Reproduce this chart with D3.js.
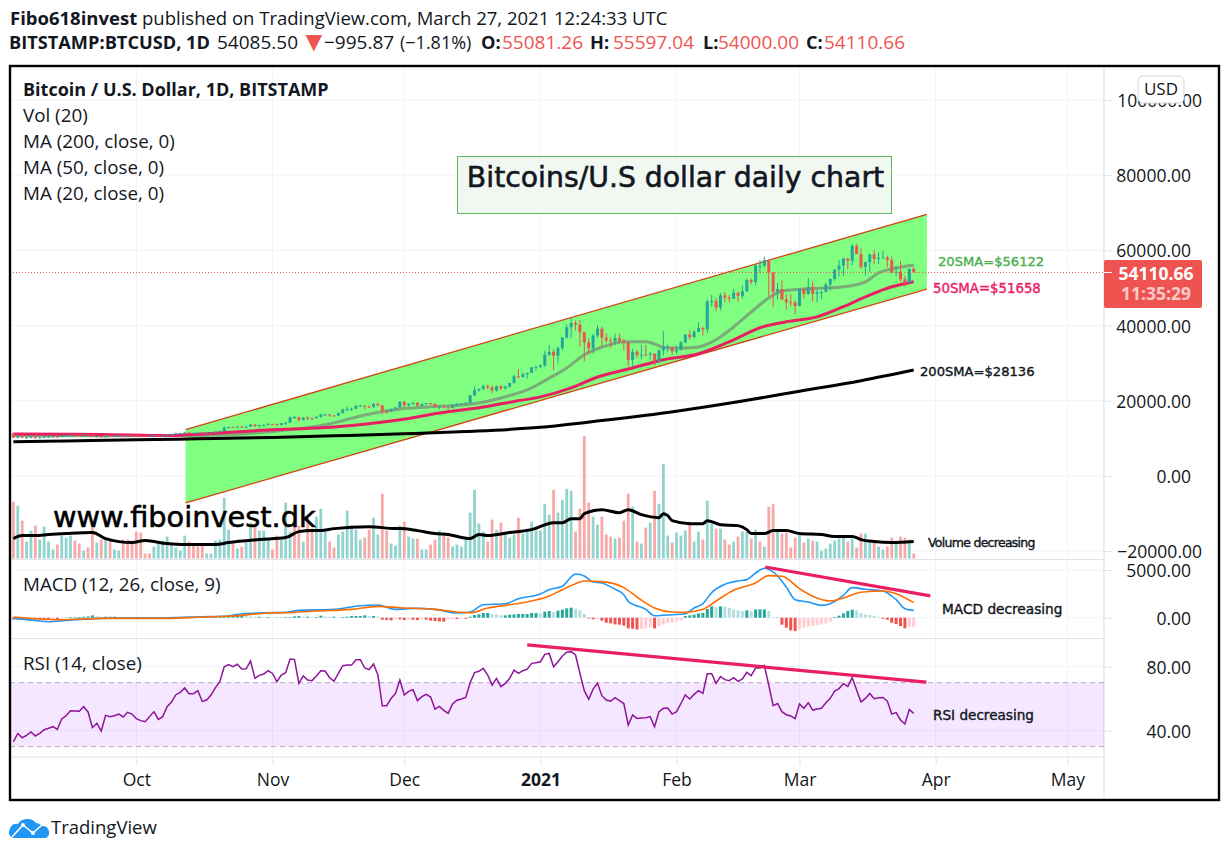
<!DOCTYPE html>
<html>
<head>
<meta charset="utf-8">
<title>Bitcoin daily chart</title>
<script src="https://cdn.jsdelivr.net/npm/d3@7"></script>
<style>
  html, body { margin: 0; padding: 0; background: #fff; }
  svg { display: block; }
  text { font-family: "Open Sans", sans-serif; fill: #131722; }
</style>
</head>
<body>
<div id="chart"></div>
<script>
// Daily bars 3 Sep 2020 - 27 Mar 2021
const opens = [
  11400,10170,10470,10160,10250,10370,10130,10230,10340,10390,10440,10320,10680,10790,10950,10940,10930,11080,10920,10420,10530,10240,10740,10690,10730,10770,10690,10840,
  10780,10620,10570,10550,10670,10790,10600,10670,10920,11060,11300,11370,11540,11430,11430,11500,11320,11360,11480,11750,11920,12820,12980,12930,13120,13040,13070,13650,13280,13460,13550,
  13800,13760,13560,14030,14150,15590,15590,14830,15480,15330,15310,15700,16290,16320,16070,15960,16720,17670,17800,17820,18680,18700,18420,18370,19150,18730,17150,17140,17720,18180,
  19700,18790,19220,19440,18650,19150,19360,19170,18320,18550,18250,18040,18800,19170,19270,19440,21380,22800,23130,23860,23480,22730,23820,23250,23720,24690,26490,26280,27040,27370,28880,
  28990,29400,32190,33000,31980,33990,36810,39490,40670,40240,38240,35540,33920,37340,39150,36770,36020,35800,36630,35910,35500,30830,33000,32100,32280,32260,32510,30400,33400,34300,34300,
  33100,33500,35500,37600,36900,38300,39300,38900,46400,46500,44800,48000,47400,47200,48700,47900,49100,52100,51600,55900,55900,57400,54100,48900,49700,47000,46200,46100,
  45200,49600,48400,50300,48400,48800,48900,50900,52400,54900,55900,57800,57200,61200,59000,55600,56900,58900,57700,58000,58100,57400,54100,54300,52300,51300,55081.26
];
const closes = [
  10170,10470,10160,10250,10370,10130,10230,10340,10390,10440,10320,10680,10790,10950,10940,10930,11080,10920,10420,10530,10240,10740,10690,10730,10770,10690,10840,10780,
  10620,10570,10550,10670,10790,10600,10670,10920,11060,11300,11370,11540,11430,11430,11500,11320,11360,11480,11750,11920,12820,12980,12930,13120,13040,13070,13650,13280,13460,13550,13800,
  13760,13560,14030,14150,15590,15590,14830,15480,15330,15310,15700,16290,16320,16070,15960,16720,17670,17800,17820,18680,18700,18420,18370,19150,18730,17150,17140,17720,18180,19700,
  18790,19220,19440,18650,19150,19360,19170,18320,18550,18250,18040,18800,19170,19270,19440,21380,22800,23130,23860,23480,22730,23820,23250,23720,24690,26490,26280,27040,27370,28880,28990,
  29400,32190,33000,31980,33990,36810,39490,40670,40240,38240,35540,33920,37340,39150,36770,36020,35800,36630,35910,35500,30830,33000,32100,32280,32260,32510,30400,33400,34300,34300,33100,
  33500,35500,37600,36900,38300,39300,38900,46400,46500,44800,48000,47400,47200,48700,47900,49100,52100,51600,55900,55900,57400,54100,48900,49700,47000,46200,46100,45200,
  49600,48400,50300,48400,48800,48900,50900,52400,54900,55900,57800,57200,61200,59000,55600,56900,58900,57700,58000,58100,57400,54100,54300,52300,51300,55100,54110.66
];
const highs = [
  11450,10630,10560,10350,10400,10430,10350,10420,10480,10480,10570,10780,10830,11100,11040,11000,11170,11050,10930,10570,10540,10800,10760,10780,10800,10810,10860,10860,
  10920,10670,10600,10700,10800,10800,10690,10950,11100,11490,11440,11720,11560,11550,11640,11550,11390,11490,11810,12000,13190,13160,13020,13160,13340,13240,13790,13860,13620,13680,14090,
  13900,13830,14070,14240,15730,15960,15730,15660,15840,15460,15960,16480,16480,16340,16170,16880,17850,18480,18190,18800,18970,18700,18760,19400,19500,18890,17470,17900,18350,19840,
  19900,19300,19560,19620,19180,19420,19420,19300,18630,18570,18290,18950,19400,19350,19570,21560,23770,23290,24170,24280,24100,24000,24100,24000,24790,26880,28400,27500,27400,28990,29300,
  29680,33300,34800,33600,34450,36900,40360,41950,41350,41400,38300,36600,37800,40100,39700,37900,36800,37800,37800,36400,35500,33800,33500,34800,34850,32900,32550,33700,38500,34900,34300,
  34700,35900,37700,38700,38800,40900,39700,47000,48100,47300,48600,48900,48100,49700,49000,50600,52500,52500,56200,57500,58300,57500,54200,51300,52000,48300,48300,46700,
  50000,50200,52600,51700,49400,49200,51400,52400,54900,57400,58000,58000,61700,61700,60500,56900,59000,60000,59500,59900,58600,58400,55800,57200,53200,55100,55597.04
];
const lows = [
  10000,9860,10000,9880,9980,9830,10010,10240,10260,10290,10200,10270,10570,10740,10800,10810,10890,10800,10300,10370,10150,10200,10600,10640,10680,10630,10650,10670,
  10440,10370,10530,10500,10630,10530,10570,10530,10830,11090,11290,11220,11280,11300,11270,11230,11270,11340,11400,11700,11880,12690,12720,12900,12910,12780,13050,12950,12980,13130,13520,
  13630,13210,13300,13530,14100,15170,14370,14750,14850,14830,15280,15500,15970,15720,15770,15870,16550,17220,17350,17740,18360,17610,18000,18050,18530,16330,16500,16880,17590,18180,
  18200,18350,18890,18610,18550,18940,18950,18200,17650,17900,17600,18000,18710,19000,19050,19280,21260,22350,22790,23070,21900,22380,22700,23000,23450,24500,25950,26100,25900,27320,27900,
  28700,29000,32000,28100,29900,33400,36500,36600,38750,34500,30500,32400,32500,36700,34400,35400,34000,34900,35400,33400,29100,28900,31400,31000,31800,30850,29300,29900,31950,32800,32200,
  32300,33400,35300,36200,36600,38200,37300,38000,45000,43800,44000,46200,46200,47000,46300,47100,48900,50900,50700,53900,55500,47600,44900,47000,46700,44200,45100,43000,
  45100,47100,48100,46300,46200,47000,48900,49300,51900,53000,53200,55000,56100,59000,55000,53300,54200,56300,56300,57900,55500,53800,53100,51700,50400,51500,54000
];

// Volume has no axis in the picture, so these are relative bar heights
const volumes = [
  57,53,38,17,28,33,19,32,17,9,14,23,21,23,18,15,8,11,31,16,19,20,18,9,8,19,19,15,27,26,
  5,5,12,15,18,22,14,11,8,23,17,14,12,13,5,5,18,19,61,29,15,10,12,16,36,33,28,28,19,9,
  23,19,56,27,43,33,17,41,30,42,50,27,17,11,24,27,48,33,29,19,21,29,41,24,65,28,15,13,
  33,37,22,20,20,9,9,14,19,28,23,21,12,14,12,19,46,69,35,27,17,39,29,36,24,21,24,41,25,30,
  37,28,28,55,44,69,46,59,70,68,27,50,123,56,42,34,42,24,22,20,21,38,65,52,17,15,31,36,68,55,
  95,23,16,26,23,28,37,17,27,19,58,35,30,30,19,14,17,22,27,27,20,29,17,12,52,55,27,25,26,11,
  21,26,16,20,18,17,8,10,15,18,20,21,17,20,11,25,25,16,16,12,9,12,21,17,22,21,19,5
];
const volumeDirs = "rtrttrttttrtttrrtrrtrtrttrrrrrrrttttttttrrrrttttttrtrttrtttrrtttrrtrrtttrrttttttrrttrrtt" +
  "trttrttrrtrrttttttttrrtrtttrtttttttrttttrrrrttrrrtrrrtrtrtrtttrtttrttrttrtrrtrttrtrtrrtrrrrtrtrtttttttrtrrttrttrrtrrtr";
const volMaDays = [0,2,5,8,12,18,21,27,30,35,39,46,49,56,62,65,68,70,73,81,87,88,92,96,99,104,106,108,113,118,123,125,127,129,130,134,138,140,143,147,148,149,150,154,157,158,161,165,167,168,171,173,176,179,184,187,191,193,196,200,205];
const volMaValues = [20,23,23,24,25,26,20,16,18,15,14,14,16,19,21,27,28,28,30,32,30,30,28,25,24,20,24,23,26,29,36,36,40,40,45,49,46,49,44,41,45,43,38,35,35,38,34,33,29,25,25,28,28,25,24,22,22,19,17,16,17];

// Moving averages, sampled at the bar numbers in the *Days arrays
const ma20Days = [0,20,39,59,73,80,88,95,103,111,118,122,126,130,135,139,144,149,153,156,160,164,168,172,175,182,189,194,197,201,205];
const ma20Values = [10700,10650,10700,11800,14100,16200,17800,18400,18900,20700,23400,26000,28700,32200,34600,35700,35700,34000,34000,34300,36200,39600,43600,47300,49200,49800,50300,51600,54000,55300,56122];
const ma50Days = [0,20,35,39,58,73,88,97,107,114,120,127,133,141,148,156,164,170,176,183,189,194,200,205];
const ma50Values = [11100,11000,10700,10900,12200,13000,14900,16700,18300,19800,21000,23400,26300,28700,30900,32500,36200,39400,41000,42300,45000,47600,50300,51658];
const ma200Days = [0,12,28,42,59,73,89,103,120,134,151,165,179,193,205];
const ma200Values = [9050,9300,9600,9850,10200,10650,11200,11800,12900,14700,17200,19700,22500,25300,28136];

const macdDays = [0,5,8,12,20,27,35,43,49,52,58,62,65,73,79,83,87,91,96,101,104,107,112,115,120,122,125,127,128,130,132,134,137,139,140,144,146,150,153,155,157,159,162,165,167,169,171,173,176,178,181,184,186,189,191,194,198,201,203,205];
const macdValues = [-70,-280,-420,-280,-70,0,0,105,175,420,525,560,770,875,1260,1330,875,980,875,490,595,1365,1470,1995,2485,2940,3290,4270,4585,4375,3745,3640,2975,2415,1715,875,210,315,420,1015,1470,2625,3500,3850,3990,4690,5180,4795,3220,1890,1645,1295,1470,2345,3150,2975,2800,1890,945,770];
const signalDays = [0,5,11,20,27,35,43,50,58,62,69,77,83,88,96,102,104,108,112,117,122,125,128,130,134,139,142,146,150,153,157,160,164,169,172,175,179,182,186,189,193,198,201,205];
const signalValues = [70,-105,-210,-70,-70,-70,70,175,490,525,700,875,1190,1050,875,560,525,1015,1295,1645,2275,2940,3570,3850,3780,3150,2170,1015,595,560,875,1750,2870,3640,4410,4340,3045,2240,1750,2065,2660,2800,2520,1575];
const macdHist = [
  -175,-175,-175,-210,-175,-175,-175,-175,-175,-140,-140,-105,
  35,70,70,70,105,140,245,140,105,105,
  105,105,70,70,35,35,70,35,35,35,
  35,70,35,35,35,35,35,35,70,70,
  70,70,70,70,70,105,105,140,175,175,
  210,175,140,105,105,70,70,35,35,35,
  70,70,140,175,105,105,70,70,210,140,
  105,105,35,70,105,175,175,175,245,175,
  175,105,-210,-245,-280,-175,-175,-245,-210,-210,-245,-175,
  -210,-315,-350,-385,-420,-175,-140,-140,-105,-105,
  105,280,350,490,490,385,315,245,245,315,
  350,385,385,385,490,490,455,630,700,595,
  735,840,980,1050,945,770,385,-70,-175,-140,
  -315,-525,-595,-700,-735,-840,-1120,-1155,-1225,-1190,
  -1120,-1015,-1120,-875,-700,-560,-525,-385,-280,175,
  245,315,455,490,910,1190,1085,1190,1155,1050,
  875,770,700,770,700,875,875,875,700,70,
  -35,-735,-1050,-1330,-1400,-1225,-1050,-945,-875,-805,
  -700,-595,-420,70,210,455,700,840,770,490,
  315,280,210,105,-105,-210,-525,-665,-875,-1120,
  -980,-945
];
const rsiValues = [
  33.1,38.3,35.6,37.1,39.2,36.7,38.3,40.6,41.5,42.5,40.8,47.3,49.4,52.5,52.3,52.1,55,51.7,41.9,44.6,
  39.8,49.6,48.8,49.4,50.4,48.6,51.5,50.4,47.5,46.3,45.6,48.8,51.9,47.1,48.8,55,57.9,62.5,64,66.7,
  63.1,63.1,65,58.3,59.2,62.3,66.9,70.6,80,81.3,80,81.5,78.5,78.7,83.5,72.7,74.6,75.4,77.5,75.8,
  70.6,74.8,76.3,84.8,84.6,69.6,74.2,71.7,71.3,74.2,77.5,77.3,73.1,71,75.8,80.6,81,81,84.4,84.4,
  79.2,78.2,81.7,74.8,55.6,55.6,60.2,63.3,71.7,62.3,64.6,65.6,58.8,61.3,62.7,61,53.5,55.2,52.7,50.8,
  56.7,59,59.8,60.8,
  70,76.3,77.1,79,74.8,68.5,72.7,67.5,69.6,72.7,77.9,75.8,77.5,78.5,82.1,82.5,83.1,87.7,88.3,80,
  83.1,86.7,89,89.4,87.3,75.8,65,59.6,66,69.6,61.9,59.2,58.5,60.6,58.8,57,43.5,49.8,47.7,47.9,
  48.1,48.8,42.5,51.9,54,54.2,50.4,51.9,57,62.3,59.8,62.7,65,63.3,75.6,75.6,69.6,73.8,71.9,71.3,
  73.1,70.8,72.3,76.5,74.4,79.2,79.2,80.8,68.5,55.6,57,51.9,50,49.2,47.5,56.7,54,57.5,52.9,53.5,
  54,57.5,60.2,64.8,66.3,69.4,67.7,73.1,65.4,57.9,60.2,63.3,60,60.6,60.8,58.5,50.4,51.3,46.7,44.2,
  53.2,50.8
];

// Hand-drawn channel and trend lines: bar number + value at each end
const channelDays = [39.2, 208];
const channelTop = [12300, 69600];
const channelBottom = [-7200, 49700];
const macdTrendDays = [171.2, 208.8];
const macdTrendValues = [5312, 2292];
const rsiTrendDays = [117, 207.9];
const rsiTrendValues = [93.6, 70.4];

const priceTicks = [100000, 80000, 60000, 40000, 20000, 0, -20000];
const macdTicks = [5000, 0];
const rsiTicks = [80, 40];
const monthDays = [28, 59, 89, 120, 151, 179, 210, 240];
const monthLabels = ["Oct", "Nov", "Dec", "2021", "Feb", "Mar", "Apr", "May"];
const lastClose = 54110.66;

const width = 1229, height = 855;
const upColor = "#26a69a", downColor = "#ef5350", pink = "#e91e63";
const gridColor = "#f0f3fa", sepColor = "#e0e3eb";
const frame = { left: 10, right: 1219, top: 66, bottom: 800 };
const axisX = 1104, timeY = 757;

const svg = d3.select("#chart").append("svg")
    .attr("width", width)
    .attr("height", height)
    .attr("viewBox", `0 0 ${width} ${height}`);

// Scales
const x = d3.scaleLinear().domain([0, 240]).range([13.4, 1067.4]);
const yPrice = d3.scaleLinear().domain([-20000, 100000]).range([551, 100]);
const yVol = d3.scaleLinear().domain([0, 123]).range([558.5, 436]);
const yMacd = d3.scaleLinear().domain([0, 5000]).range([617.7, 570]);
const yRsi = d3.scaleLinear().domain([40, 80]).range([730.7, 666.7]);

const lineFrom = (days, values, yScale) => d3.line()
    .x((d, i) => x(days[i]))
    .y(d => yScale(d))
    .curve(d3.curveMonotoneX)(values);

// Grid
const grid = svg.append("g");
grid.selectAll(".vgrid").data(monthDays).enter().append("line")
    .attr("x1", d => x(d)).attr("x2", d => x(d))
    .attr("y1", frame.top).attr("y2", timeY)
    .attr("stroke", gridColor);
[[priceTicks, yPrice], [macdTicks, yMacd], [rsiTicks, yRsi]].forEach(([ticks, scale]) => {
    grid.selectAll(null).data(ticks).enter().append("line")
        .attr("x1", frame.left).attr("x2", axisX)
        .attr("y1", d => scale(d)).attr("y2", d => scale(d))
        .attr("stroke", gridColor);
});

// Pane separators
[559.5, 638.5, timeY].forEach(y => {
    svg.append("line").attr("x1", frame.left).attr("x2", axisX)
        .attr("y1", y).attr("y2", y).attr("stroke", sepColor).attr("stroke-width", 1.2);
});
svg.append("line").attr("x1", axisX).attr("x2", axisX)
    .attr("y1", frame.top).attr("y2", frame.bottom).attr("stroke", sepColor).attr("stroke-width", 1.2);

// Volume
svg.append("g").selectAll("rect").data(volumes).enter().append("rect")
    .attr("x", (d, i) => x(i) - 1.4)
    .attr("width", 2.8)
    .attr("y", d => yVol(d))
    .attr("height", d => yVol(0) - yVol(d))
    .attr("fill", (d, i) => volumeDirs[i] === "t" ? "#91d3cd" : "#f7a9a7");

svg.append("path")
    .attr("d", lineFrom(volMaDays, volMaValues, yVol))
    .attr("fill", "none").attr("stroke", "#000").attr("stroke-width", 3);

// Channel
svg.append("polygon")
    .attr("points", [
        [x(channelDays[0]), yPrice(channelTop[0])],
        [x(channelDays[1]), yPrice(channelTop[1])],
        [x(channelDays[1]), yPrice(channelBottom[1])],
        [x(channelDays[0]), yPrice(channelBottom[0])]
    ].join(" "))
    .attr("fill", "#80ff80");
[channelTop, channelBottom].forEach(vals => {
    svg.append("line")
        .attr("x1", x(channelDays[0])).attr("y1", yPrice(vals[0]))
        .attr("x2", x(channelDays[1])).attr("y2", yPrice(vals[1]))
        .attr("stroke", "#d4400f").attr("stroke-width", 1.3);
});

// Moving averages go under the candles
svg.append("path").attr("d", lineFrom(ma200Days, ma200Values, yPrice))
    .attr("fill", "none").attr("stroke", "#000").attr("stroke-width", 3);
svg.append("path").attr("d", lineFrom(ma20Days, ma20Values, yPrice))
    .attr("fill", "none").attr("stroke", "#7aab78").attr("stroke-width", 3);
svg.append("path").attr("d", lineFrom(ma50Days, ma50Values, yPrice))
    .attr("fill", "none").attr("stroke", pink).attr("stroke-width", 3);

// Candles
const candles = svg.append("g");
candles.selectAll(".wick").data(closes).enter().append("line")
    .attr("x1", (d, i) => x(i)).attr("x2", (d, i) => x(i))
    .attr("y1", (d, i) => yPrice(highs[i]))
    .attr("y2", (d, i) => yPrice(lows[i]))
    .attr("stroke", (d, i) => d >= opens[i] ? upColor : downColor);
candles.selectAll(".body").data(closes).enter().append("rect")
    .attr("x", (d, i) => x(i) - 1.5)
    .attr("width", 3)
    .attr("y", (d, i) => yPrice(Math.max(d, opens[i])))
    .attr("height", (d, i) => Math.max(1, Math.abs(yPrice(d) - yPrice(opens[i]))))
    .attr("fill", (d, i) => d >= opens[i] ? upColor : downColor);

// Last price line
svg.append("line")
    .attr("x1", frame.left).attr("x2", axisX)
    .attr("y1", yPrice(lastClose)).attr("y2", yPrice(lastClose))
    .attr("stroke", downColor).attr("stroke-dasharray", "1 2");

// MACD pane
svg.append("g").selectAll("rect").data(macdHist).enter().append("rect")
    .attr("x", (d, i) => x(i) - 1.5)
    .attr("width", 3)
    .attr("y", d => d >= 0 ? yMacd(d) : yMacd(0))
    .attr("height", d => Math.abs(yMacd(d) - yMacd(0)))
    .attr("fill", (d, i) => {
        const prev = i ? macdHist[i - 1] : d;
        if (d >= 0) return d >= prev ? upColor : "#b2dfdb";
        return d <= prev ? downColor : "#ffcdd2";
    });
svg.append("path").attr("d", lineFrom(macdDays, macdValues, yMacd))
    .attr("fill", "none").attr("stroke", "#2196f3").attr("stroke-width", 1.6);
svg.append("path").attr("d", lineFrom(signalDays, signalValues, yMacd))
    .attr("fill", "none").attr("stroke", "#ff6d00").attr("stroke-width", 1.6);
svg.append("line")
    .attr("x1", x(macdTrendDays[0])).attr("y1", yMacd(macdTrendValues[0]))
    .attr("x2", x(macdTrendDays[1])).attr("y2", yMacd(macdTrendValues[1]))
    .attr("stroke", pink).attr("stroke-width", 3.2);

// RSI pane
svg.append("rect")
    .attr("x", frame.left).attr("width", axisX - frame.left)
    .attr("y", yRsi(70)).attr("height", yRsi(30) - yRsi(70))
    .attr("fill", "#9915ff").attr("fill-opacity", 0.1);
[70, 30].forEach(v => {
    svg.append("line")
        .attr("x1", frame.left).attr("x2", axisX)
        .attr("y1", yRsi(v)).attr("y2", yRsi(v))
        .attr("stroke", "#b8a8bc").attr("stroke-dasharray", "5 4");
});
svg.append("path")
    .attr("d", d3.line().x((d, i) => x(i)).y(d => yRsi(d))(rsiValues))
    .attr("fill", "none").attr("stroke", "#8e1599").attr("stroke-width", 1.5);
svg.append("line")
    .attr("x1", x(rsiTrendDays[0])).attr("y1", yRsi(rsiTrendValues[0]))
    .attr("x2", x(rsiTrendDays[1])).attr("y2", yRsi(rsiTrendValues[1]))
    .attr("stroke", pink).attr("stroke-width", 3.2);

// Axes
function priceAxis(scale, ticks) {
    const g = svg.append("g")
        .attr("transform", `translate(${axisX},0)`)
        .call(d3.axisRight(scale).tickValues(ticks).tickSize(8).tickFormat(d3.format(".2f")));
    g.select(".domain").remove();
    g.selectAll("line").attr("stroke", sepColor);
    g.selectAll("text")
        .attr("text-anchor", "end")
        .attr("x", d => (d >= 100000 || d < 0) ? 98 : 87)
        .attr("dy", "0.38em")
        .style("font-size", "17.5px")
        .style("fill", "#131722");
}
priceAxis(yPrice, priceTicks);
priceAxis(yMacd, macdTicks);
priceAxis(yRsi, rsiTicks);

const timeAxis = svg.append("g")
    .attr("transform", `translate(0,${timeY})`)
    .call(d3.axisBottom(x).tickValues(monthDays).tickSize(8).tickFormat((d, i) => monthLabels[i]));
timeAxis.select(".domain").remove();
timeAxis.selectAll("line").attr("stroke", sepColor);
timeAxis.selectAll("text")
    .attr("y", 17)
    .style("font-size", "17.5px")
    .style("fill", "#131722")
    .style("font-weight", d => d === 120 ? "700" : "400");

// Last price tag
svg.append("rect")
    .attr("x", axisX).attr("y", 260).attr("width", 98).attr("height", 48)
    .attr("rx", 2).attr("fill", downColor);
svg.append("line")
    .attr("x1", axisX).attr("x2", axisX + 8)
    .attr("y1", yPrice(lastClose)).attr("y2", yPrice(lastClose))
    .attr("stroke", "#fff");
svg.append("text").attr("x", 1156).attr("y", 280).attr("text-anchor", "middle")
    .style("font-size", "17.5px").style("font-weight", 700).style("fill", "#fff").text("54110.66");
svg.append("text").attr("x", 1156).attr("y", 300).attr("text-anchor", "middle")
    .style("font-size", "17.5px").style("font-weight", 700).style("fill", "#ffffff").style("fill-opacity", 0.7).text("11:35:29");

// USD button
svg.append("rect")
    .attr("x", 1138).attr("y", 76).attr("width", 46).attr("height", 27).attr("rx", 5)
    .attr("fill", "#fff").attr("stroke", "#d1d4dc");
svg.append("text").attr("x", 1161).attr("y", 95).attr("text-anchor", "middle")
    .style("font-size", "17px").text("USD");

// Frame
svg.append("rect")
    .attr("x", frame.left).attr("y", frame.top)
    .attr("width", frame.right - frame.left).attr("height", frame.bottom - frame.top)
    .attr("fill", "none").attr("stroke", "#000").attr("stroke-width", 2.4);

// Pane legends
const legends = [
    ["Bitcoin / U.S. Dollar, 1D, BITSTAMP", 96, 700, 18],
    ["Vol (20)", 122, 400, 18.8],
    ["MA (200, close, 0)", 148, 400, 18.8],
    ["MA (50, close, 0)", 174, 400, 18.8],
    ["MA (20, close, 0)", 200, 400, 18.8],
    ["MACD (12, 26, close, 9)", 591, 400, 18.8],
    ["RSI (14, close)", 670, 400, 18.8]
];
legends.forEach(([label, y, weight, size]) => {
    svg.append("text").attr("x", 23).attr("y", y)
        .style("font-size", `${size}px`).style("font-weight", weight).text(label);
});

// Title box and notes drawn on the chart
svg.append("rect")
    .attr("x", 457.5).attr("y", 156.5).attr("width", 434).attr("height", 57)
    .attr("fill", "#f1f8f1").attr("stroke", "#5cb85c");
svg.append("text").attr("x", 675.5).attr("y", 187).attr("text-anchor", "middle")
    .style("font-family", "'DejaVu Sans'").style("font-size", "28.3px")
    .style("stroke", "#131722").style("stroke-width", 0.6).text("Bitcoins/U.S dollar daily chart");
svg.append("text").attr("x", 53).attr("y", 527)
    .style("font-family", "'DejaVu Sans'").style("font-size", "28.8px")
    .style("fill", "#000").style("stroke", "#000").style("stroke-width", 0.6).text("www.fiboinvest.dk");

const notes = [
    ["20SMA=$56122", 938, 266, "#4caf50", 13.1, 0],
    ["50SMA=$51658", 933, 293, pink, 13.3, 0],
    ["200SMA=$28136", 920, 376, "#131722", 13.1, 0],
    ["Volume decreasing", 928, 547, "#131722", 12.5, -0.72],
    ["MACD decreasing", 942, 614, "#131722", 13.7, 0],
    ["RSI decreasing", 933, 720, "#131722", 13.6, 0]
];
notes.forEach(([label, nx, ny, color, size, spacing]) => {
    svg.append("text").attr("x", nx).attr("y", ny)
        .style("font-family", "'DejaVu Sans'").style("font-size", `${size}px`)
        .style("letter-spacing", `${spacing}px`)
        .style("fill", color).style("stroke", color).style("stroke-width", 0.4).text(label);
});

// Header
const line1 = svg.append("text").attr("x", 10).attr("y", 25).style("font-size", "18.5px");
line1.append("tspan").style("font-weight", 700).text("Fibo618invest");
line1.append("tspan").text(" published on TradingView.com, March 27, 2021 12:24:33 UTC");

const red = "#ef5350";
[
    ["BITSTAMP:BTCUSD, 1D", 9, 49, 700, null, 18.2],
    ["54085.50", 217, 49, 400, null, 19],
    ["▼", 300, 51, 400, red, 28],
    ["−995.87", 324, 49, 400, null, 19],
    ["(−1.81%)", 400, 49, 400, null, 18],
    ["O:", 481, 49, 700, null, 18.2], ["55081.26", 502, 49, 400, red, 19],
    ["H:", 590, 49, 700, null, 18.2], ["55597.04", 613, 49, 400, red, 19],
    ["L:", 703, 49, 700, null, 18.2], ["54000.00", 718, 49, 400, red, 19],
    ["C:", 806, 49, 700, null, 18.2], ["54110.66", 824, 49, 400, red, 19]
].forEach(([t, hx, hy, w, c, size]) => {
    const s = svg.append("text").attr("x", hx).attr("y", hy)
        .style("font-size", `${size}px`).style("font-weight", w).text(t);
    if (c) s.style("fill", c);
});

// TradingView logo
const logo = svg.append("g");
logo.append("path")
    .attr("d", "M14 838 A5.5 5.5 0 0 1 9.5 830 A7 7 0 0 1 18 824 A10 8 0 0 1 36 823 A8 8 0 0 1 42 826 A6.5 6.5 0 0 1 46 838 Z")
    .attr("fill", "#2196f3");
logo.append("polyline")
    .attr("points", "12,837 23,825 33,833 43,824")
    .attr("fill", "none").attr("stroke", "#fff").attr("stroke-width", 1.6);
logo.selectAll("circle").data([[23, 825], [33, 833]]).enter().append("circle")
    .attr("cx", d => d[0]).attr("cy", d => d[1]).attr("r", 2).attr("fill", "#fff");
svg.append("text").attr("x", 51).attr("y", 834)
    .style("font-size", "18.5px").text("TradingView");
</script>
</body>
</html>
